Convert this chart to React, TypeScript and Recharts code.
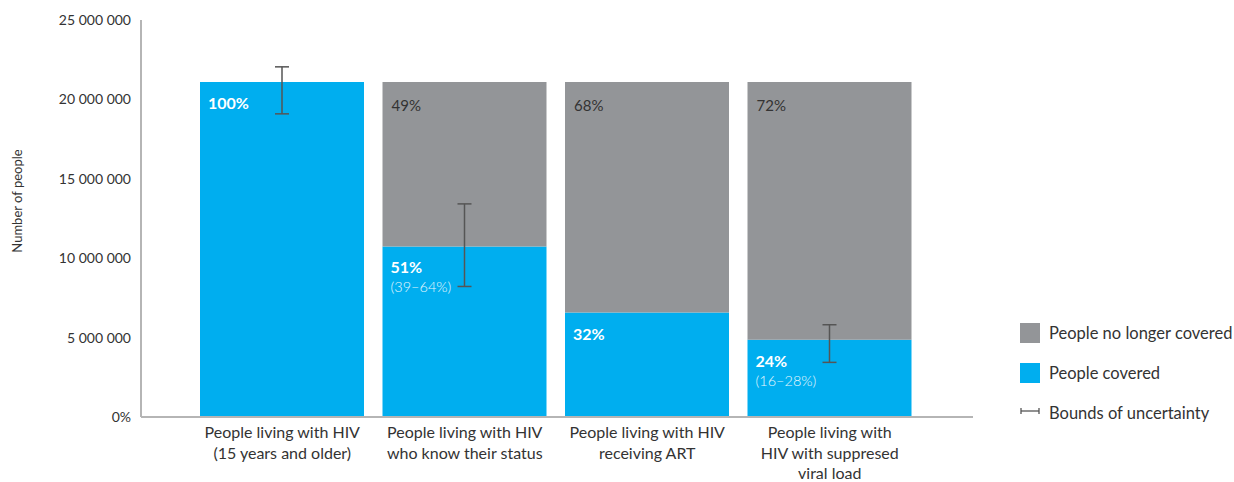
import { Bar, ComposedChart, ErrorBar, LabelList, XAxis, YAxis, Label } from "recharts";

const categories = [
  ["People living with HIV", "(15 years and older)"],
  ["People living with HIV", "who know their status"],
  ["People living with HIV", "receiving ART"],
  ["People living with", "HIV with suppresed", "viral load"],
];
const covered = [21100000, 10740000, 6580000, 4860000];
const notCovered = [0, 10360000, 14520000, 16240000];
const lowerBound = [19090000, 8220000, null, 3440000];
const upperBound = [22050000, 13420000, null, 5810000];
const coveredPct = ["100%", "51%", "32%", "24%"];
const coveredRange = ["", "(39–64%)", "", "(16–28%)"];
const notCoveredPct = ["", "49%", "68%", "72%"];
const yTicks = [0, 5000000, 10000000, 15000000, 20000000, 25000000];

const BLUE = "#00aeef";
const GREY = "#939598";
const TEXT = "#333333";
const FONT = "Lato, 'Open Sans', sans-serif";

const data = categories.map((c, i) => ({
  name: i,
  covered: covered[i],
  notCovered: notCovered[i],
  pct: coveredPct[i],
  range: coveredRange[i],
  greyPct: notCoveredPct[i],
  err:
    lowerBound[i] == null || upperBound[i] == null
      ? null
      : [covered[i] - (lowerBound[i] as number), (upperBound[i] as number) - covered[i]],
}));

const fmtTick = (v: number) => (v === 0 ? "0%" : v.toLocaleString("en-US").replace(/,/g, " "));

function CategoryTick(props: any) {
  const { x, y, payload } = props;
  const lines = categories[payload.value] || [];
  return (
    <text x={x} y={y + 13} textAnchor="middle" fill={TEXT} fontSize={16} fontFamily={FONT}>
      {lines.map((l, i) => (
        <tspan key={i} x={x} dy={i === 0 ? 0 : 20.5}>
          {l}
        </tspan>
      ))}
    </text>
  );
}

function PctLabel(props: any) {
  const { x, y, value } = props;
  if (!value) return null;
  return (
    <text x={x + 8} y={y + 27} fill="#fff" fontSize={16} fontWeight={700} fontFamily={FONT}>
      {value}
    </text>
  );
}

function RangeLabel(props: any) {
  const { x, y, value } = props;
  if (!value) return null;
  return (
    <text x={x + 8} y={y + 46} fill="#e6f7fd" fontSize={14.5} fontWeight={300} fontFamily={FONT}>
      {value}
    </text>
  );
}

function GreyLabel(props: any) {
  const { x, y, value } = props;
  if (!value) return null;
  return (
    <text x={x + 9} y={y + 29} fill={TEXT} fontSize={15} fontFamily={FONT}>
      {value}
    </text>
  );
}

function YTitle() {
  return (
    <text
      x={22}
      y={201}
      transform="rotate(-90 22 201)"
      textAnchor="middle"
      fill={TEXT}
      fontSize={13}
      fontFamily={FONT}
    >
      Number of people
    </text>
  );
}

function LegendBox() {
  const row = { display: "flex", alignItems: "center", height: 20, marginBottom: 20 } as const;
  return (
    <div
      style={{ position: "absolute", left: 1020, top: 323, fontFamily: FONT, fontSize: 16.5, color: TEXT, whiteSpace: "nowrap" }}
    >
      <div style={row}>
        <div style={{ width: 20, height: 20, background: GREY, marginRight: 9 }} />
        <span>People no longer covered</span>
      </div>
      <div style={row}>
        <div style={{ width: 20, height: 20, background: BLUE, marginRight: 9 }} />
        <span>People covered</span>
      </div>
      <div style={row}>
        <svg width={20} height={20} style={{ marginRight: 9 }}>
          <line x1={1} y1={8} x2={19} y2={8} stroke="#555" strokeWidth={1.3} />
          <line x1={1} y1={5} x2={1} y2={11} stroke="#555" strokeWidth={1.3} />
          <line x1={19} y1={5} x2={19} y2={11} stroke="#555" strokeWidth={1.3} />
        </svg>
        <span>Bounds of uncertainty</span>
      </div>
    </div>
  );
}

export default function App() {
  return (
    <div style={{ position: "absolute", left: 0, top: 0, width: 1234, height: 482, background: "#fff" }}>
      <ComposedChart
        width={1234}
        height={482}
        data={data}
        margin={{ top: 20, right: 261, bottom: 35, left: 0 }}
        barSize={164}
      >
        <XAxis
          dataKey="name"
          type="category"
          height={30}
          padding={{ left: 50, right: 52 }}
          axisLine={{ stroke: "#b5b5b5", strokeWidth: 2 }}
          tickLine={false}
          tick={<CategoryTick />}
          interval={0}
        />
        <YAxis
          width={141}
          domain={[0, 25000000]}
          ticks={yTicks}
          tickFormatter={fmtTick}
          axisLine={{ stroke: "#b5b5b5", strokeWidth: 2 }}
          tickLine={false}
          tickSize={0}
          tickMargin={10}
          tick={{ fill: TEXT, fontSize: 14, fontFamily: FONT }}
          interval={0}
        >
          <Label content={<YTitle />} />
        </YAxis>
        <Bar dataKey="covered" stackId="a" fill={BLUE} isAnimationActive={false}>
          <LabelList dataKey="pct" content={<PctLabel />} />
          <LabelList dataKey="range" content={<RangeLabel />} />
          <ErrorBar dataKey="err" width={7} stroke="#555" strokeWidth={1.5} direction="y" isAnimationActive={false} />
        </Bar>
        <Bar dataKey="notCovered" stackId="a" fill={GREY} isAnimationActive={false}>
          <LabelList dataKey="greyPct" content={<GreyLabel />} />
        </Bar>
      </ComposedChart>
      <LegendBox />
    </div>
  );
}
